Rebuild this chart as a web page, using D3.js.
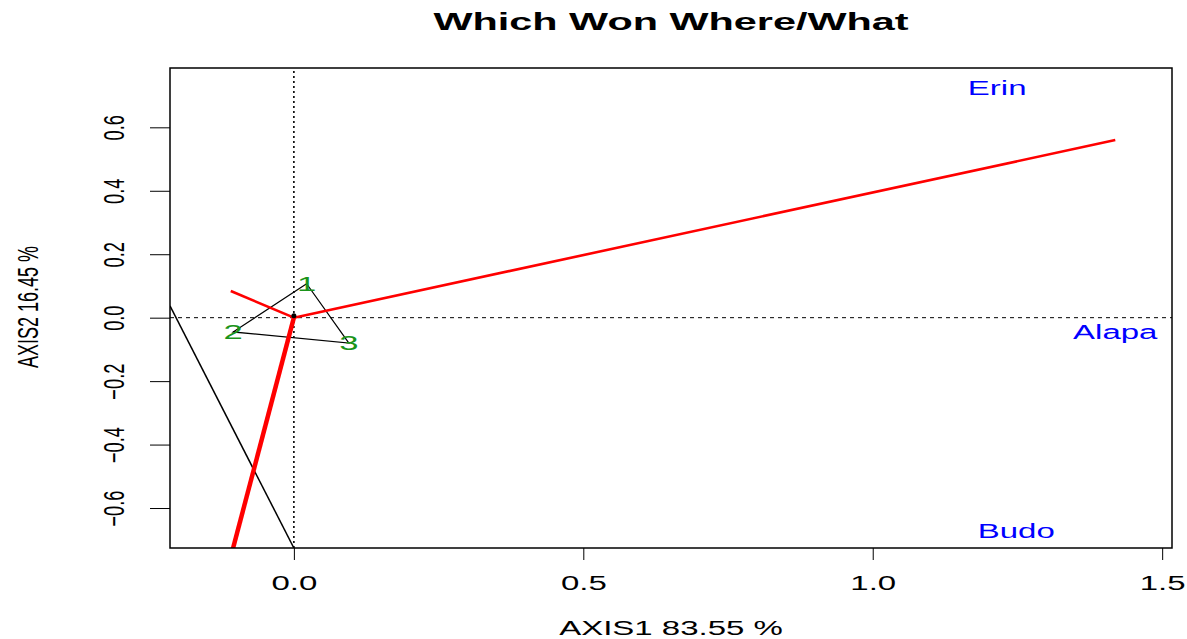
<!DOCTYPE html>
<html>
<head>
<meta charset="utf-8">
<script src="https://cdn.jsdelivr.net/npm/d3@7"></script>
<style>
	body { margin: 0; background: #fff; }
	svg text { font-family: "Liberation Sans", Arial, sans-serif; }
</style>
</head>
<body>
<svg id="figure_container"></svg>
<script>
// biplot values
var xTicks = [0.0, 0.5, 1.0, 1.5],
	yTicks = [-0.6, -0.4, -0.2, 0.0, 0.2, 0.4, 0.6],
	xLimits = [-0.214, 1.517],
	yLimits = [-0.726, 0.787];

var genoNames = ["1", "2", "3"],
	genoX = [0.022, -0.105, 0.095],
	genoY = [0.107, -0.045, -0.080];

var envNames = ["Erin", "Alapa", "Budo"],
	envX = [1.215, 1.419, 1.248],
	envY = [0.724, -0.045, -0.672];

// sector rays from the origin, perpendicular to the polygon sides
var rayX = [1.419, -0.109, -0.120],
	rayY = [0.560, 0.084, -0.830];

var extraLineX = [-0.214, 0.0],
	extraLineY = [0.037, -0.726];

var titleText = "Which Won Where/What",
	xTitle = "AXIS1 83.55 %",
	yTitle = "AXIS2 16.45 %";

var plotwidth = 1187,
	plotheight = 639,
	margin = {top: 68, right: 15, bottom: 91, left: 170},
	fs = 20,
	stretch = 1.65;

var vis = d3.select("#figure_container")
	.attr("width", plotwidth)
	.attr("height", plotheight);

var x = d3.scaleLinear().domain(xLimits).range([margin.left, plotwidth - margin.right]),
	y = d3.scaleLinear().domain(yLimits).range([plotheight - margin.bottom, margin.top]);

vis.append("clipPath").attr("id", "plotclip")
	.append("rect")
	.attr("x", margin.left).attr("y", margin.top)
	.attr("width", plotwidth - margin.left - margin.right)
	.attr("height", plotheight - margin.top - margin.bottom);

var inner = vis.append("g").attr("clip-path", "url(#plotclip)");

// reference lines through origin
inner.append("line")
	.attr("x1", x(xLimits[0])).attr("x2", x(xLimits[1]))
	.attr("y1", y(0)).attr("y2", y(0))
	.attr("stroke", "#000").attr("stroke-width", 1)
	.attr("stroke-dasharray", "4,4");
inner.append("line")
	.attr("x1", x(0)).attr("x2", x(0))
	.attr("y1", y(yLimits[0])).attr("y2", y(yLimits[1]))
	.attr("stroke", "#000").attr("stroke-width", 1.6)
	.attr("stroke-dasharray", "2,3");

// polygon
var hull = genoNames.map(function(d, i){ return [x(genoX[i]), y(genoY[i])]; });
inner.append("path")
	.attr("d", "M" + hull.join("L") + "Z")
	.attr("fill", "none")
	.attr("stroke", "#000")
	.attr("stroke-width", 1.2);

inner.append("line")
	.attr("x1", x(extraLineX[0])).attr("y1", y(extraLineY[0]))
	.attr("x2", x(extraLineX[1])).attr("y2", y(extraLineY[1]))
	.attr("stroke", "#000").attr("stroke-width", 1.5);

// red rays
inner.selectAll("line.ray")
	.data(rayX)
	.enter()
	.append("line")
	.attr("class", "ray")
	.attr("x1", x(0)).attr("y1", y(0))
	.attr("x2", function(d){ return x(d); })
	.attr("y2", function(d, i){ return y(rayY[i]); })
	.attr("stroke", "#ff0000")
	.attr("stroke-width", function(d, i){ return i == 2 ? 4.5 : 2.6; });

inner.append("circle")
	.attr("cx", x(0)).attr("cy", y(0) - 2)
	.attr("r", 2.5)
	.attr("fill", "#000");

// genotype labels
inner.selectAll("text.geno")
	.data(genoNames)
	.enter()
	.append("text")
	.attr("class", "geno")
	.attr("transform", function(d, i){
		return "translate(" + x(genoX[i]) + "," + y(genoY[i]) + ") scale(" + stretch + ",1)";
	})
	.attr("text-anchor", "middle")
	.attr("dominant-baseline", "central")
	.attr("font-size", 21)
	.attr("fill", "#1a941a")
	.text(function(d){ return d; });

// environment labels
inner.selectAll("text.env")
	.data(envNames)
	.enter()
	.append("text")
	.attr("class", "env")
	.attr("transform", function(d, i){
		return "translate(" + x(envX[i]) + "," + y(envY[i]) + ") scale(" + stretch + ",1)";
	})
	.attr("text-anchor", "middle")
	.attr("dominant-baseline", "central")
	.attr("font-size", fs)
	.attr("fill", "#0000ff")
	.text(function(d){ return d; });

// axes
var xAxis = vis.append("g")
	.attr("transform", "translate(0," + (plotheight - margin.bottom) + ")")
	.call(d3.axisBottom(x).tickValues(xTicks).tickFormat(d3.format(".1f")).tickSize(12).tickSizeOuter(0));
xAxis.select(".domain").remove();
xAxis.selectAll("line").attr("stroke", "#000");
xAxis.selectAll("text")
	.attr("y", 0).attr("dy", 0)
	.attr("dominant-baseline", "central")
	.attr("transform", "translate(0,35) scale(" + stretch + ",1)")
	.attr("font-size", fs)
	.attr("fill", "#000");

var yAxis = vis.append("g")
	.attr("transform", "translate(" + margin.left + ",0)")
	.call(d3.axisLeft(y).tickValues(yTicks).tickFormat(d3.format(".1f")).tickSize(20).tickSizeOuter(0));
yAxis.select(".domain").remove();
yAxis.selectAll("line").attr("stroke", "#000");
yAxis.selectAll("text")
	.attr("x", 0).attr("dy", 0)
	.attr("text-anchor", "middle")
	.attr("dominant-baseline", "central")
	.attr("transform", "translate(-56,0) rotate(-90) scale(0.63,1)")
	.attr("font-size", 29)
	.attr("fill", "#000");

// box
vis.append("rect")
	.attr("x", margin.left).attr("y", margin.top)
	.attr("width", plotwidth - margin.left - margin.right)
	.attr("height", plotheight - margin.top - margin.bottom)
	.attr("fill", "none")
	.attr("stroke", "#000")
	.attr("stroke-width", 1.5);

// titles
vis.append("text")
	.attr("transform", "translate(671,22) scale(1.8,1)")
	.attr("text-anchor", "middle")
	.attr("dominant-baseline", "central")
	.attr("font-size", 23)
	.attr("font-weight", "bold")
	.text(titleText);

vis.append("text")
	.attr("transform", "translate(671,628) scale(" + stretch + ",1)")
	.attr("text-anchor", "middle")
	.attr("dominant-baseline", "central")
	.attr("font-size", fs)
	.text(xTitle);

vis.append("text")
	.attr("transform", "translate(28,307) rotate(-90) scale(0.6,1)")
	.attr("text-anchor", "middle")
	.attr("dominant-baseline", "central")
	.attr("font-size", 30)
	.text(yTitle);
</script>
</body>
</html>
